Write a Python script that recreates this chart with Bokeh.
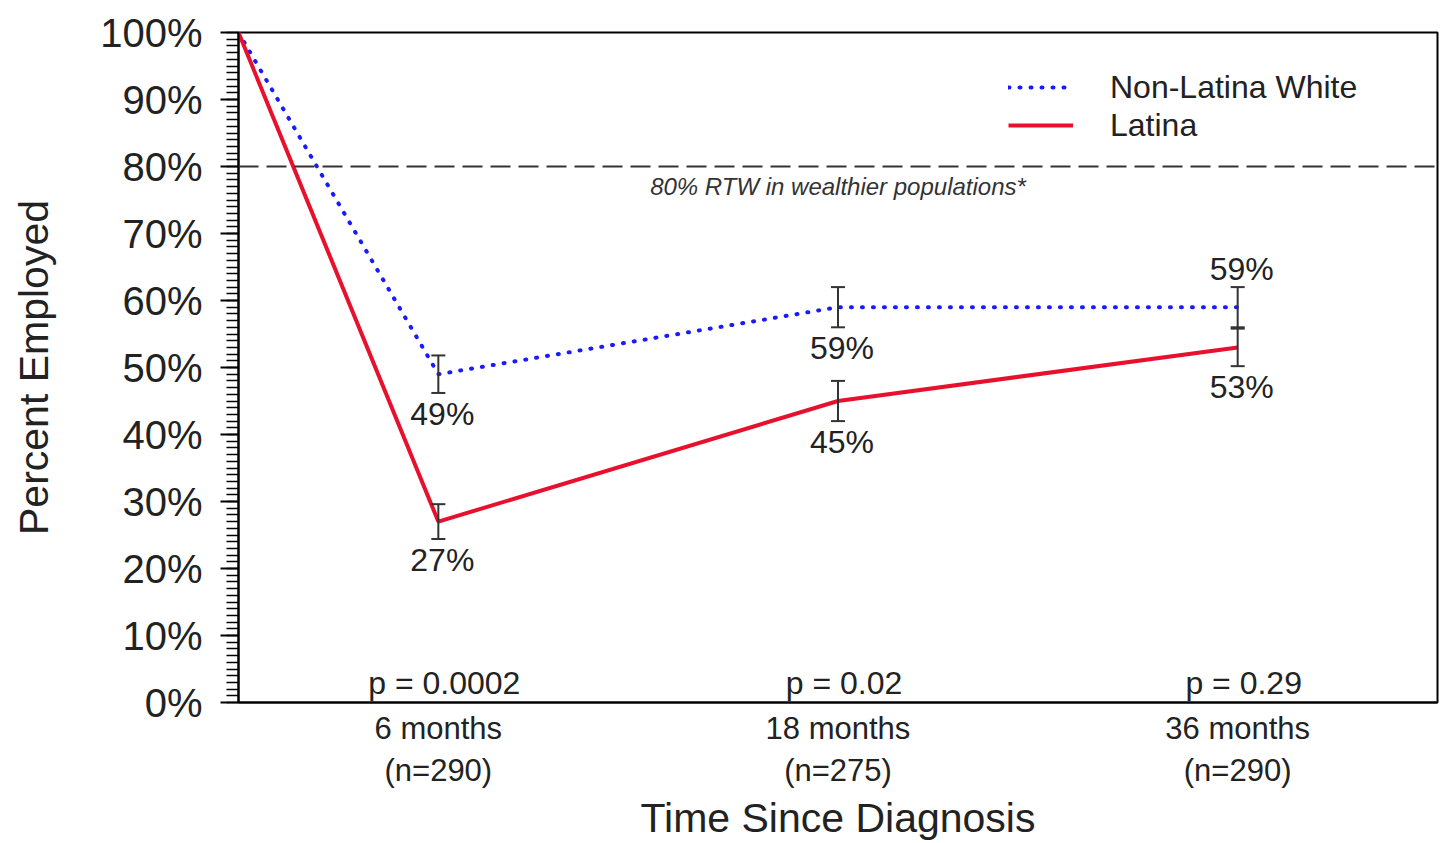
from bokeh.plotting import figure
from bokeh.models import (Range1d, SingleIntervalTicker, FixedTicker, PrintfTickFormatter,
                          Span, Whisker, TeeHead, ColumnDataSource, Legend, LegendItem)
from bokeh.core.properties import value
from bokeh.embed import file_html
from bokeh.resources import INLINE

# ---- data ----
time_labels = ["Diagnosis", "6 months", "18 months", "36 months"]
time_pos = [0, 0.5, 1.5, 2.5]
n_sizes = [None, 290, 275, 290]
p_values = ["p = 0.0002", "p = 0.02", "p = 0.29"]

nlw_pct = [100, 49, 59, 59]
nlw_err = [None, 2.8, 3.0, 3.0]
nlw_label_side = [None, "below", "below", "above"]

lat_pct = [100, 27, 45, 53]
lat_err = [None, 2.6, 3.0, 2.8]
lat_label_side = [None, "below", "below", "below"]

reference_level = 80
reference_text = "80% RTW in wealthier populations*"

FONT = "Liberation Sans"
TXT = "#222222"
BLUE = "#1a1aff"
RED = "#e8112d"

p = figure(width=1439, height=843, output_backend="svg", toolbar_location=None,
           x_range=Range1d(0, 3), y_range=Range1d(0, 100),
           min_border_left=238, min_border_right=2, min_border_top=32, min_border_bottom=140)
p.xgrid.visible = False
p.ygrid.visible = False
p.outline_line_color = "black"
p.outline_line_width = 2
p.background_fill_color = "white"

# y axis
p.yaxis.ticker = SingleIntervalTicker(interval=10, num_minor_ticks=10)
p.yaxis.formatter = PrintfTickFormatter(format="%d%%")
p.yaxis.major_tick_out = 18
p.yaxis.major_tick_in = 0
p.yaxis.minor_tick_out = 12
p.yaxis.minor_tick_in = 0
p.yaxis.major_tick_line_width = 2
p.yaxis.minor_tick_line_width = 1.5
p.yaxis.axis_line_width = 2
p.yaxis.major_label_text_font = FONT
p.yaxis.major_label_text_font_size = "40px"
p.yaxis.major_label_text_color = TXT
p.yaxis.major_label_standoff = 18
p.yaxis.axis_label = "Percent Employed"
p.yaxis.axis_label_text_font = FONT
p.yaxis.axis_label_text_font_size = "41px"
p.yaxis.axis_label_text_font_style = "normal"
p.yaxis.axis_label_text_color = TXT
p.yaxis.axis_label_standoff = 40

# x axis
p.xaxis.ticker = FixedTicker(ticks=time_pos[1:])
p.xaxis.major_label_overrides = {t: f"{lab}\n(n={n})" for t, lab, n in
                                 zip(time_pos[1:], time_labels[1:], n_sizes[1:])}
p.xaxis.major_tick_line_color = None
p.xaxis.minor_tick_line_color = None
p.xaxis.axis_line_width = 2
p.xaxis.major_label_text_font = FONT
p.xaxis.major_label_text_font_size = "31px"
p.xaxis.major_label_text_color = TXT
p.xaxis.major_label_standoff = 2
p.xaxis.axis_label = "Time Since Diagnosis"
p.xaxis.axis_label_text_font = FONT
p.xaxis.axis_label_text_font_size = "41px"
p.xaxis.axis_label_text_font_style = "normal"
p.xaxis.axis_label_text_color = TXT
p.xaxis.axis_label_standoff = 4

# reference line
p.add_layout(Span(location=reference_level, dimension="width", line_color="#333333",
                  line_width=2, line_dash="20 8"))
p.text(x=[(p.x_range.start + p.x_range.end) / 2], y=[reference_level],
       text=[reference_text], text_font=value(FONT), text_font_size="24px",
       text_font_style="italic", text_color="#333333", text_align="center",
       text_baseline="top", y_offset=6)

# lines
r_nlw = p.line(time_pos, nlw_pct, line_color=BLUE, line_width=4, line_dash="1 10",
               line_cap="round")
r_lat = p.line(time_pos, lat_pct, line_color=RED, line_width=4)

# error bars
for vals, errs in ((nlw_pct, nlw_err), (lat_pct, lat_err)):
    xs = [x for x, e in zip(time_pos, errs) if e is not None]
    up = [v + e for v, e in zip(vals, errs) if e is not None]
    lo = [v - e for v, e in zip(vals, errs) if e is not None]
    src = ColumnDataSource(dict(base=xs, upper=up, lower=lo))
    w = Whisker(source=src, base="base", upper="upper", lower="lower",
                line_color="#333333", line_width=2, level="overlay",
                upper_head=TeeHead(size=14, line_color="#333333", line_width=2),
                lower_head=TeeHead(size=14, line_color="#333333", line_width=2))
    p.add_layout(w)

# value labels
for vals, errs, sides in ((nlw_pct, nlw_err, nlw_label_side), (lat_pct, lat_err, lat_label_side)):
    for x, v, e, s in zip(time_pos, vals, errs, sides):
        if s is None:
            continue
        if s == "below":
            p.text(x=[x], y=[v - e], text=[f"{v}%"], text_font=value(FONT),
                   text_font_size="32px", text_color=TXT, text_align="center",
                   text_baseline="top", y_offset=3, x_offset=4)
        else:
            p.text(x=[x], y=[v + e], text=[f"{v}%"], text_font=value(FONT),
                   text_font_size="32px", text_color=TXT, text_align="center",
                   text_baseline="bottom", y_offset=0, x_offset=4)

# p-values
p.text(x=time_pos[1:], y=[0] * len(p_values), text=p_values, text_font=value(FONT),
       text_font_size="32px", text_color=TXT, text_align="center",
       text_baseline="bottom", y_offset=-2, x_offset=6)

legend = Legend(items=[LegendItem(label="Non-Latina White", renderers=[r_nlw]),
                       LegendItem(label="Latina", renderers=[r_lat])],
                location=(770, 558), padding=0, margin=0, spacing=0,
                glyph_width=65, glyph_height=38, label_height=38, label_standoff=37,
                label_text_font=FONT, label_text_font_size="32px", label_text_color=TXT,
                border_line_color=None, background_fill_alpha=0)
p.add_layout(legend)

open("out.html", "w").write(file_html(p, INLINE))
